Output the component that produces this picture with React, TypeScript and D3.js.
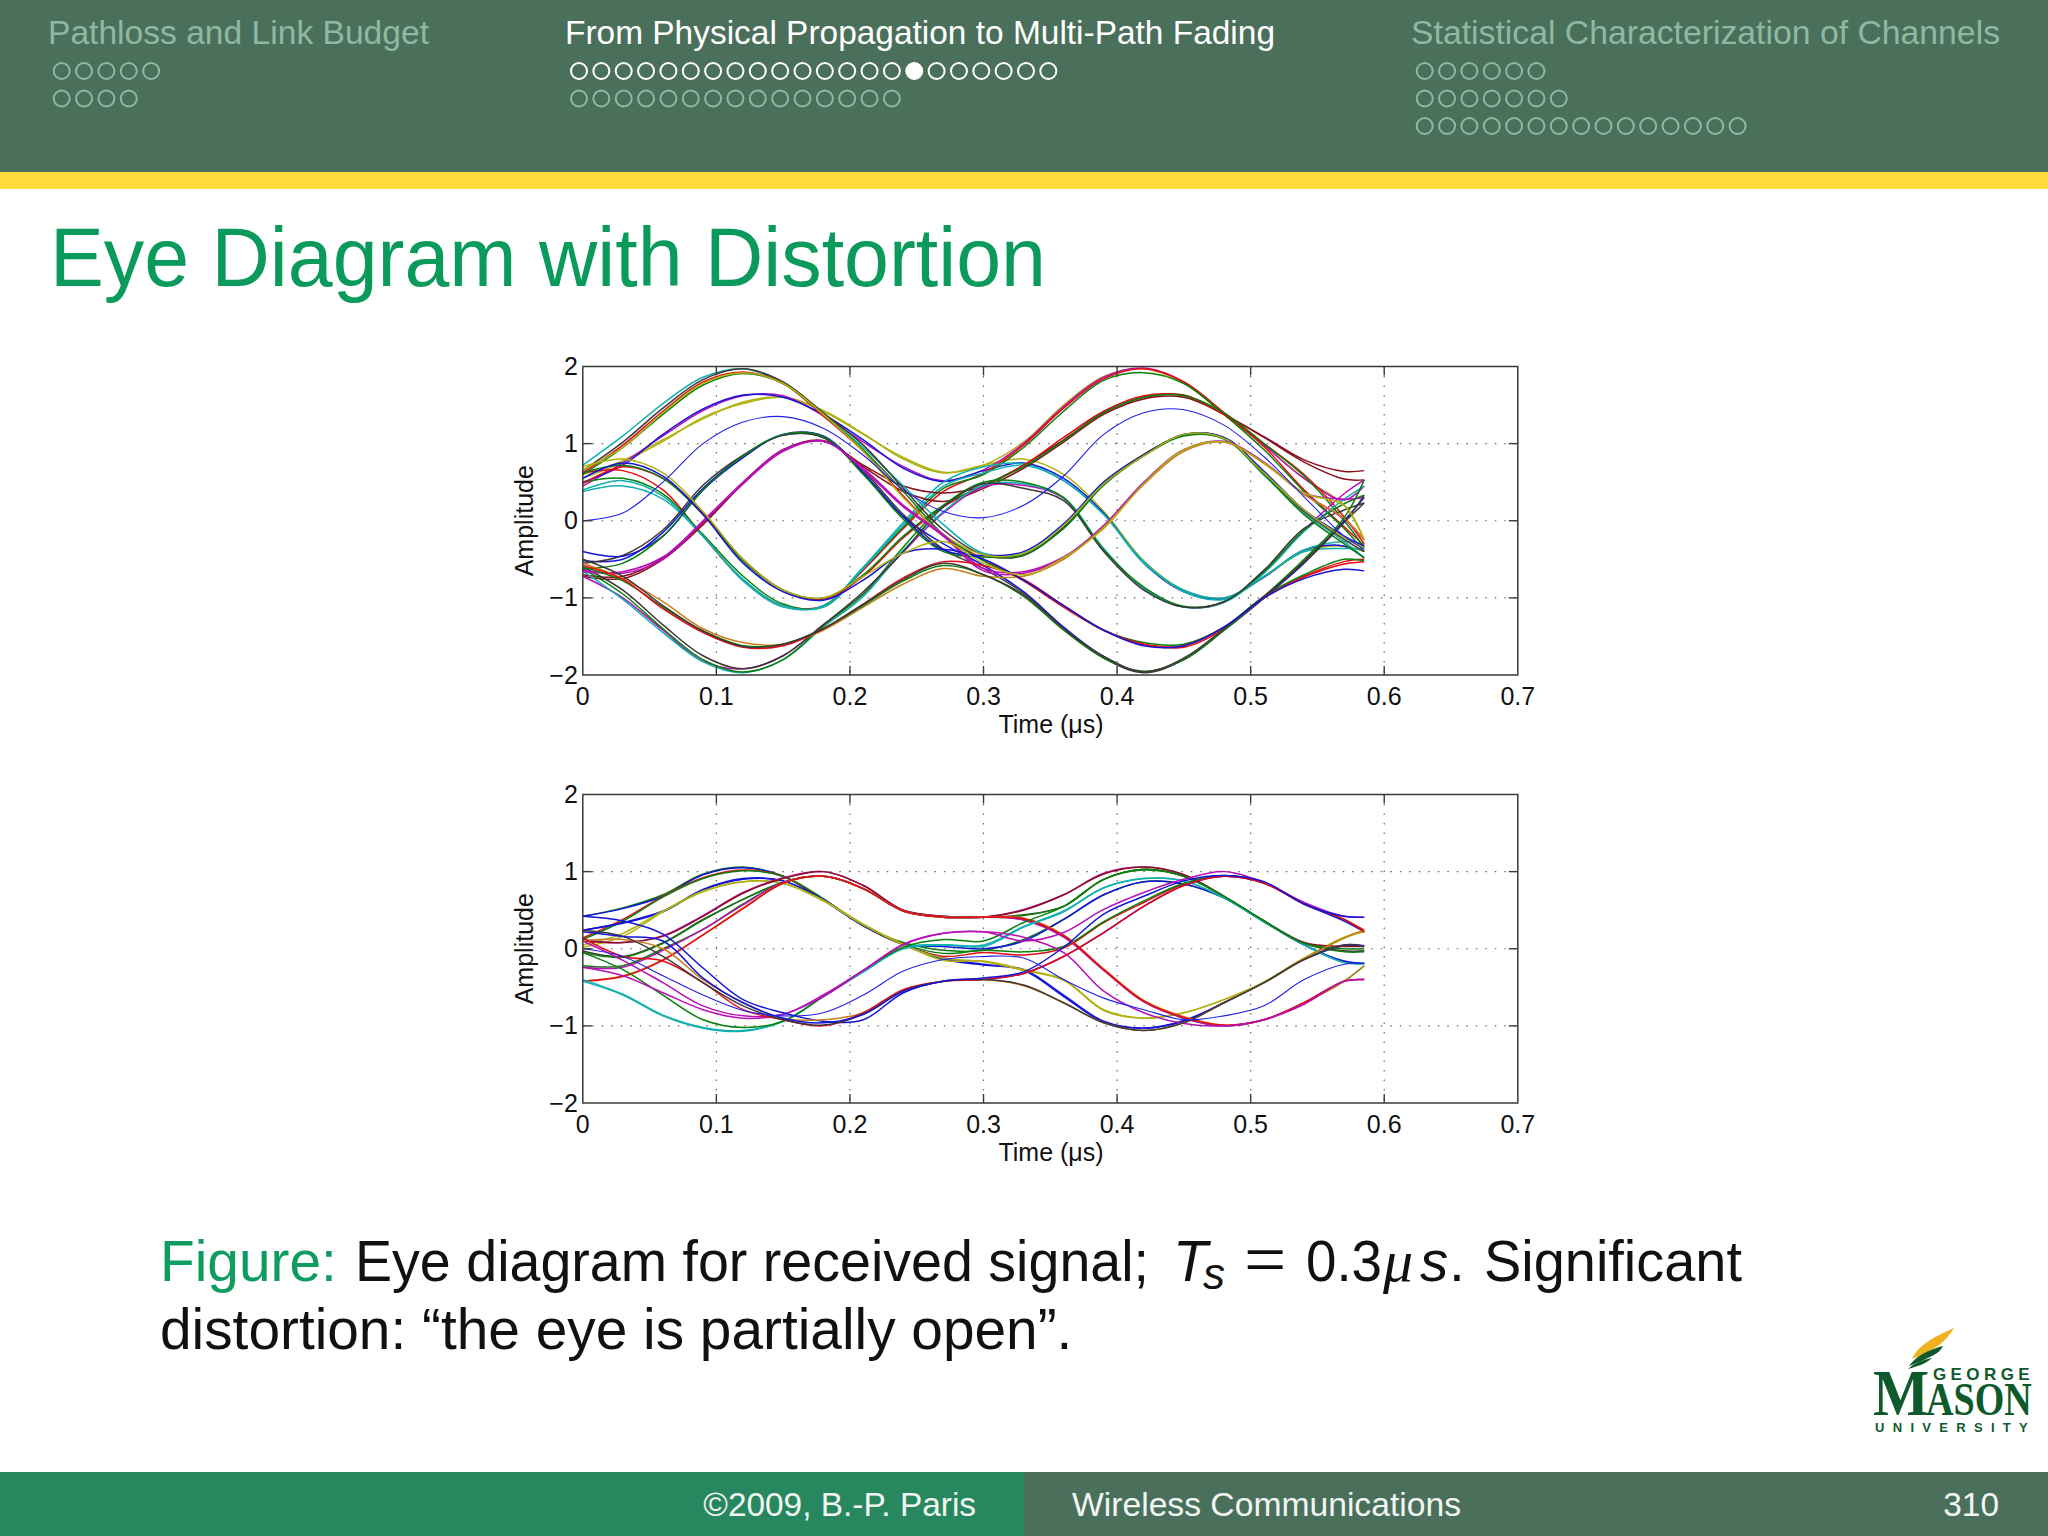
import React from "react";
import * as d3 from "d3";

const sampleTimes = [0,.03,.06,.09,.12,.15,.18,.21,.24,.27,.30,.33,.36,.39,.42,.45,.48,.51,.54,.57,.585];
const xTicks = [0,.1,.2,.3,.4,.5,.6,.7];
const xTickLabels = ["0","0.1","0.2","0.3","0.4","0.5","0.6","0.7"];
const yTicks = [-2,-1,0,1,2];
const yTickLabels = ["\u22122","\u22121","0","1","2"];

const matlab: Record<string,string> = { b:"#1414d8", g:"#0a800a", r:"#e60a14", c:"#10b0b0", m:"#b810b8", y:"#b0b010", k:"#403838", d:"#8a1020", o:"#c8801a" };

const upperColors = "yymbrgccddrgmcgkckrgbkbgymmogrkby".split("");
const upperTraces = [
 [.6,.78,1.05,1.32,1.54,1.6,1.42,1.12,.82,.63,.72,1.02,1.5,1.87,1.97,1.78,1.38,.98,.55,.2,-.25],
 [.55,.76,1.03,1.34,1.52,1.6,1.43,1.13,.8,.62,.72,.8,.6,.12,-.52,-.9,-1,-.73,-.4,-.33,-.4],
 [.45,.75,1.1,1.43,1.62,1.62,1.36,1.02,.7,.52,.66,1,1.48,1.86,1.98,1.8,1.4,.98,.55,.27,.45],
 [.5,.72,1.12,1.45,1.63,1.6,1.38,1.05,.68,.51,.65,.75,.55,.1,-.55,-.92,-1.01,-.73,-.38,-.33,-.48],
 [.62,.65,.4,-.2,-.77,-1.1,-1.1,-.64,-.1,.38,.62,.98,1.46,1.84,1.97,1.8,1.4,.96,.4,-.08,-.32],
 [.5,.55,.35,-.18,-.72,-1.08,-1.12,-.62,-.08,.42,.6,.95,1.42,1.82,1.92,1.78,1.38,.92,.38,-.1,-.4],
 [.4,.52,.32,-.2,-.76,-1.1,-1.12,-.62,-.05,.45,.62,.72,.52,.08,-.55,-.9,-1,-.72,-.38,-.27,-.3],
 [.38,.45,.28,-.2,-.78,-1.12,-1.1,-.6,-.02,.5,.7,.74,.52,.08,-.53,-.92,-1.02,-.72,-.4,-.36,-.37],
 [-.72,-.75,-.5,-.05,.48,.92,1.03,.72,.45,.36,.45,.72,1.05,1.4,1.6,1.63,1.38,1.09,.79,.64,.65],
 [-.7,-.72,-.48,-.03,.5,.92,1.04,.7,.38,.25,.42,.68,1.02,1.38,1.58,1.6,1.38,1.08,.76,.54,.53],
 [.48,.7,.55,.1,-.5,-.9,-1.02,-.72,-.22,.18,.45,.72,1.08,1.42,1.62,1.62,1.38,1,.6,.05,-.3],
 [.62,.72,.55,.08,-.52,-.9,-1,-.7,-.2,.2,.46,.7,1.04,1.4,1.6,1.62,1.4,1,.58,0,-.35],
 [-.72,-1,-1.42,-1.82,-1.92,-1.75,-1.35,-.95,-.4,.1,.44,.46,.29,-.38,-.88,-1.12,-1.05,-.66,-.12,.35,.53],
 [-.65,-1.02,-1.45,-1.83,-1.97,-1.8,-1.38,-.98,-.38,.12,.46,.48,.3,-.36,-.88,-1.12,-1.06,-.68,-.14,.28,.45],
 [-.62,-.95,-1.4,-1.8,-1.96,-1.8,-1.36,-.95,-.34,.2,.5,.5,.3,-.38,-.86,-1.11,-1.05,-.66,-.12,.22,.33],
 [-.6,-.9,-1.35,-1.75,-1.92,-1.75,-1.35,-.92,-.4,.18,.48,.42,.26,-.4,-.9,-1.12,-1.05,-.64,-.1,.14,.23],
 [.72,1.1,1.52,1.86,1.97,1.78,1.38,.95,.45,-.05,-.42,-.42,-.1,.49,.85,1.11,1.07,.59,.1,-.27,-.48],
 [.65,1.02,1.46,1.83,1.97,1.8,1.4,.98,.42,-.12,-.44,-.45,-.08,.5,.86,1.12,1.08,.62,.12,-.24,-.4],
 [.62,.98,1.42,1.8,1.93,1.78,1.36,.9,.32,-.2,-.5,-.78,-1.12,-1.42,-1.6,-1.64,-1.4,-1,-.72,-.53,-.5],
 [.6,.95,1.38,1.76,1.91,1.78,1.38,.92,.38,-.18,-.52,-.77,-1.1,-1.42,-1.58,-1.6,-1.38,-.98,-.7,-.5,-.52],
 [-.52,-.5,-.15,.42,.84,1.11,1.08,.62,.05,-.3,-.58,-.92,-1.38,-1.76,-1.96,-1.8,-1.42,-1,-.55,0,.3],
 [-.55,-.45,-.12,.46,.85,1.11,1.08,.65,.08,-.37,-.62,-.94,-1.4,-1.78,-1.97,-1.8,-1.42,-1,-.52,-.02,.23],
 [-.4,-.46,-.2,.4,.82,1.12,1.1,.62,.05,-.38,-.45,-.4,-.04,.5,.85,1.12,1.08,.64,.14,-.2,-.33],
 [-.62,-.55,-.2,.4,.84,1.12,1.09,.6,.02,-.4,-.47,-.44,-.1,.46,.84,1.1,1.06,.6,.08,-.3,-.48],
 [.66,.95,1.4,1.78,1.92,1.78,1.38,.9,.3,-.18,-.44,-.42,-.06,.48,.84,1.12,1.07,.62,.14,-.22,-.35],
 [-.66,-.66,-.47,0,.5,.92,1.03,.68,.2,-.18,-.62,-.66,-.47,-.08,.49,.92,1.02,.75,.35,.02,-.25],
 [-.64,-.68,-.5,-.02,.48,.9,1.03,.66,.18,-.2,-.65,-.68,-.48,-.06,.5,.92,1.03,.76,.36,.28,.3],
 [-.55,-.75,-1.05,-1.4,-1.58,-1.6,-1.42,-1.12,-.82,-.62,-.72,-.72,-.5,-.08,.47,.9,1.02,.74,.34,.03,-.25],
 [-.6,-.78,-1.12,-1.43,-1.62,-1.6,-1.4,-1.1,-.78,-.58,-.7,-.98,-1.42,-1.78,-1.95,-1.8,-1.42,-.98,-.5,.04,.53],
 [-.58,-.76,-1.14,-1.45,-1.64,-1.62,-1.4,-1.08,-.74,-.53,-.58,-.76,-1.1,-1.42,-1.6,-1.62,-1.38,-1,-.73,-.56,-.53],
 [-.5,-.72,-1.1,-1.43,-1.63,-1.6,-1.4,-1.08,-.76,-.55,-.7,-.96,-1.4,-1.76,-1.96,-1.78,-1.4,-.98,-.54,-.02,.33],
 [.55,.75,.58,.08,-.55,-.92,-1.03,-.77,-.42,-.37,-.5,-.77,-1.1,-1.42,-1.62,-1.62,-1.38,-1,-.75,-.63,-.65],
 [.7,.8,.62,.12,-.5,-.9,-1,-.72,-.42,-.27,-.55,-.7,-.48,-.1,.48,.92,1.02,.75,.36,.2,-.25],
];
const upperThinTrace = [0,.1,.5,1,1.28,1.35,1.2,.85,.4,.12,.04,.2,.58,1.12,1.4,1.44,1.24,.83,.31,-.2,-.37];

const lowerColors = "gbrgbbyymdkggmorccgmmborkb".split("");
const lowerTraces = [
 [.42,.53,.7,.97,1.06,.94,.64,.3,.08,-.02,-.02,.12,.38,.7,.87,.84,.66,.35,.05,-.17,-.19],
 [.42,.52,.68,.96,1.05,.94,.63,.3,.06,.03,0,.1,.38,.7,.87,.84,.66,.35,.05,-.16,-.19],
 [.14,.38,.68,.92,1.02,.94,.64,.3,.05,-.1,-.05,-.08,.01,.34,.6,.84,.94,.86,.58,.38,.24],
 [.12,.36,.67,.91,1.01,.94,.65,.3,.06,-.06,-.02,-.04,.03,.35,.62,.85,.95,.86,.58,.38,.22],
 [.24,.34,.49,.77,.91,.88,.64,.3,.05,-.12,-.2,-.27,-.6,-.94,-1.03,-.94,-.7,-.44,-.14,.04,.03],
 [.24,.33,.48,.76,.9,.88,.63,.3,.06,-.14,-.21,-.28,-.62,-.95,-1.03,-.93,-.7,-.44,-.13,.05,.04],
 [.05,.2,.49,.75,.87,.85,.63,.32,.06,-.15,-.16,-.27,-.4,-.79,-.9,-.83,-.66,-.44,-.13,.14,.22],
 [.02,.16,.48,.74,.87,.85,.62,.31,.05,-.12,-.17,-.28,-.41,-.8,-.9,-.83,-.66,-.43,-.12,.15,.23],
 [.12,.08,.17,.43,.73,.92,1,.82,.5,.42,.41,.51,.7,.98,1.06,.96,.68,.36,.08,-.03,-.03],
 [.1,.08,.16,.42,.72,.91,1,.82,.5,.42,.41,.5,.7,.97,1.06,.96,.68,.36,.08,.03,.03],
 [-.03,-.1,.08,.38,.64,.86,.94,.78,.49,.41,.41,.44,.55,.9,1.03,.94,.68,.36,.07,-.03,-.03],
 [-.05,-.11,.07,.37,.64,.86,.94,.78,.49,.41,.41,.43,.55,.9,1.02,.94,.68,.36,.07,-.04,-.04],
 [-.22,-.22,0,.25,.58,.86,.94,.78,.49,.41,.41,.38,.16,-.27,-.68,-.9,-1,-.92,-.7,-.42,-.22],
 [-.24,-.24,-.02,.25,.57,.86,.94,.78,.49,.41,.41,.37,.15,-.28,-.69,-.9,-1,-.92,-.7,-.42,-.4],
 [-.42,-.35,-.14,.18,.53,.85,.94,.78,.49,.41,.41,.4,.18,-.26,-.67,-.88,-.99,-.92,-.7,-.42,-.22],
 [-.42,-.36,-.15,.18,.52,.85,.94,.78,.49,.41,.41,.39,.17,-.27,-.68,-.89,-.99,-.92,-.7,-.42,-.4],
 [-.42,-.6,-.87,-1.03,-1.07,-.94,-.62,-.3,0,.05,.05,.29,.49,.79,.91,.88,.66,.35,.05,-.18,-.19],
 [-.4,-.59,-.86,-1.02,-1.06,-.94,-.62,-.3,.02,.05,.03,.28,.48,.79,.91,.88,.66,.35,.05,-.18,-.19],
 [-.05,-.27,-.6,-.92,-1.02,-.94,-.62,-.28,.02,.12,.1,.34,.55,.9,1.03,.94,.68,.36,.07,0,0],
 [-.24,-.35,-.57,-.79,-.9,-.85,-.62,-.28,.05,.2,.22,.15,-.05,-.55,-.83,-.97,-1,-.92,-.72,-.42,-.4],
 [.1,-.15,-.44,-.74,-.87,-.85,-.6,-.28,.06,.2,.22,.1,.21,.51,.73,.9,1,.86,.6,.42,.41],
 [.42,.36,.19,-.25,-.66,-.83,-.94,-.92,-.57,-.42,-.4,-.32,-.1,.21,.55,.82,.94,.85,.58,.36,.22],
 [.1,.12,0,-.4,-.7,-.9,-.92,-.83,-.53,-.42,-.4,-.48,-.7,-.96,-1.06,-.96,-.7,-.44,-.13,.14,.24],
 [.14,-.1,-.16,-.44,-.79,-.92,-1,-.83,-.53,-.42,-.4,-.32,-.1,.21,.55,.82,.94,.85,.58,.38,.22],
 [.24,.16,-.1,-.44,-.74,-.92,-.99,-.85,-.55,-.42,-.4,-.47,-.7,-.96,-1.06,-.96,-.7,-.44,-.14,.05,.03],
 [.22,.16,.1,-.38,-.7,-.9,-.96,-.85,-.55,-.42,-.38,-.3,.02,.45,.68,.88,.95,.87,.58,.42,.41],
];
const lowerThinTrace = [0,-.1,-.35,-.6,-.8,-.87,-.83,-.6,-.29,-.14,-.1,-.12,-.4,-.64,-.79,-.92,-.87,-.74,-.4,-.2,-.19];

const navSections = [
 { title: "Pathloss and Link Budget", x: 48, w: 381, active: false, dotX: 61.7, rows: [5, 4] },
 { title: "From Physical Propagation to Multi-Path Fading", x: 565, w: 710, active: true, dotX: 579, rows: [22, 15] },
 { title: "Statistical Characterization of Channels", x: 1411, w: 589, active: false, dotX: 1424.7, rows: [6, 7, 15] },
];
const activeDot = 15;
const SANS = "'Liberation Sans', Arial, sans-serif";

function EyePlot({ top, traces, colors, thin }: { top: number; traces: number[][]; colors: string[]; thin: number[] }) {
  const left = 582.8, right = 1517.8, height = 308.5;
  const x = d3.scaleLinear().domain([0, 0.7]).range([left, right]);
  const y = d3.scaleLinear().domain([-2, 2]).range([top + height, top]);
  const line = d3.line<number>().x((_, i) => x(sampleTimes[i])).y((v) => y(v)).curve(d3.curveCatmullRom.alpha(0.5));
  const axis = "#3a3a3a";
  return (
    <g fontFamily={SANS} fontSize={25} fill="#111">
      {xTicks.slice(1, -1).map((t) => (
        <line key={t} x1={x(t)} x2={x(t)} y1={top} y2={top + height} stroke="#666" strokeWidth={1.2} strokeDasharray="1.5 8" />
      ))}
      {yTicks.slice(1, -1).map((t) => (
        <line key={t} x1={left} x2={right} y1={y(t)} y2={y(t)} stroke="#666" strokeWidth={1.2} strokeDasharray="1.5 8" />
      ))}
      {traces.map((tr, i) => (
        <path key={i} d={line(tr) || ""} fill="none" stroke={matlab[colors[i % colors.length]]} strokeWidth={1.5} />
      ))}
      <path d={line(thin) || ""} fill="none" stroke="#2020e8" strokeWidth={1.1} />
      <rect x={left} y={top} width={right - left} height={height} fill="none" stroke={axis} strokeWidth={1.5} />
      {xTicks.slice(1, -1).map((t) => (
        <g key={t} stroke={axis} strokeWidth={1.4}>
          <line x1={x(t)} x2={x(t)} y1={top} y2={top + 9} />
          <line x1={x(t)} x2={x(t)} y1={top + height} y2={top + height - 9} />
        </g>
      ))}
      {yTicks.slice(1, -1).map((t) => (
        <g key={t} stroke={axis} strokeWidth={1.4}>
          <line x1={left} x2={left + 9} y1={y(t)} y2={y(t)} />
          <line x1={right} x2={right - 9} y1={y(t)} y2={y(t)} />
        </g>
      ))}
      {xTicks.map((t, i) => (
        <text key={t} x={x(t)} y={top + height + 30} textAnchor="middle">{xTickLabels[i]}</text>
      ))}
      {yTicks.map((t, i) => (
        <text key={t} x={left - 5} y={y(t) + 8.5} textAnchor="end">{yTickLabels[i]}</text>
      ))}
      <text x={1051} y={top + height + 58} textAnchor="middle">Time ({"\u03BC"}s)</text>
      <text transform={`translate(533 ${top + height / 2}) rotate(-90)`} textAnchor="middle">Amplitude</text>
    </g>
  );
}

function Nav() {
  const rowY = [71, 98.5, 126];
  return (
    <g fontFamily={SANS}>
      {navSections.map((s) => {
        const c = s.active ? "#ffffff" : "#8fb8a3";
        return (
          <g key={s.title}>
            <text x={s.x} y={44} fontSize={33} fill={c} textLength={s.w} lengthAdjust="spacingAndGlyphs">{s.title}</text>
            {s.rows.map((n, r) =>
              d3.range(n).map((k) => (
                <circle key={`${r}-${k}`} cx={s.dotX + k * 22.35} cy={rowY[r]} r={8}
                  fill={s.active && r === 0 && k === activeDot ? "#fff" : "none"}
                  stroke={s.active && r === 0 ? "#fff" : "#8fb8a3"} strokeWidth={2} />
              ))
            )}
          </g>
        );
      })}
    </g>
  );
}

function Logo() {
  const g = "#0e5a2c";
  const serif = "'Liberation Serif', serif";
  return (
    <g fill={g}>
      <path d="M1912 1359 C1918 1345 1934 1337 1954 1328 C1947 1340 1936 1350 1912 1359 Z" fill="#eeb21c" />
      <path d="M1909 1366 C1916 1356 1928 1350 1943 1346 C1940 1354 1928 1358 1909 1366 Z" />
      <path d="M1908 1369 C1914 1363 1922 1360 1932 1358 C1926 1364 1918 1366 1908 1369 Z" />
      <text transform="translate(1873 1415) scale(0.9 1)" fontFamily={serif} fontWeight={700} fontSize={66}>M</text>
      <text transform="translate(1926 1415) scale(0.81 1)" fontFamily={serif} fontWeight={700} fontSize={47}>ASON</text>
      <text x={1933} y={1380} fontFamily={SANS} fontWeight={700} fontSize={17} letterSpacing={4.4}>GEORGE</text>
      <text x={1875} y={1432} fontFamily={SANS} fontWeight={700} fontSize={13} letterSpacing={8.3}>UNIVERSITY</text>
    </g>
  );
}

export default function App() {
  const header = "#4a705c";
  const serif = "'Liberation Serif', serif";
  const cap = 56.8;
  return (
    <svg width={2048} height={1536} viewBox="0 0 2048 1536" style={{ position: "absolute", left: 0, top: 0, display: "block", background: "#fff" }}>
      <rect x={0} y={0} width={2048} height={172} fill={header} />
      <rect x={0} y={172} width={2048} height={17} fill="#ffdb3c" />
      <Nav />
      <text x={50} y={286} fontFamily={SANS} fontSize={84} fill="#0a9a5c" textLength={996} lengthAdjust="spacingAndGlyphs">Eye Diagram with Distortion</text>
      <EyePlot top={366.5} traces={upperTraces} colors={upperColors} thin={upperThinTrace} />
      <EyePlot top={794.5} traces={lowerTraces} colors={lowerColors} thin={lowerThinTrace} />
      <g fontFamily={SANS} fontSize={cap} fill="#111">
        <text x={160} y={1281} fill="#0f9c60">Figure:</text>
        <text x={355} y={1281} textLength={794} lengthAdjust="spacingAndGlyphs">Eye diagram for received signal;</text>
        <text x={1173} y={1281} fontStyle="italic">T</text>
        <text x={1203} y={1289} fontStyle="italic" fontSize={44}>s</text>
        <text x={1244} y={1284} fontFamily={serif} fontSize={75}>=</text>
        <text x={1306} y={1281} textLength={76} lengthAdjust="spacingAndGlyphs">0.3</text>
        <text x={1383} y={1281} fontFamily={serif} fontStyle="italic" fontSize={60}>{"\u03BC"}</text>
        <text x={1420} y={1281} fontStyle="italic">s</text>
        <text x={1449} y={1281}>.</text>
        <text x={1484} y={1281} textLength={258} lengthAdjust="spacingAndGlyphs">Significant</text>
        <text x={160} y={1349}>distortion: {"\u201C"}the eye is partially open{"\u201D"}.</text>
      </g>
      <Logo />
      <rect x={0} y={1472} width={1024} height={64} fill="#27885f" />
      <rect x={1024} y={1472} width={1024} height={64} fill={header} />
      <g fontFamily={SANS} fontSize={33.4} fill="#f2f6f3">
        <text x={976} y={1516} textAnchor="end">©2009, B.-P. Paris</text>
        <text x={1072} y={1516} textLength={389} lengthAdjust="spacingAndGlyphs">Wireless Communications</text>
        <text x={1999} y={1516} textAnchor="end">310</text>
      </g>
    </svg>
  );
}
